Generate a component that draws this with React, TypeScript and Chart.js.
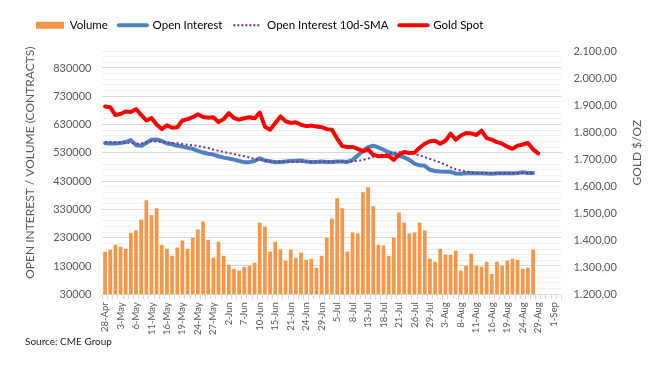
import React, { useEffect, useRef } from 'react';
import { Chart, registerables } from 'chart.js';

Chart.register(...registerables);

// Business days (CME) from 28-Apr to 2-Sep
const dateLabels = [
  '28-Apr', '29-Apr',
  '2-May', '3-May', '4-May', '5-May', '6-May',
  '9-May', '10-May', '11-May', '12-May', '13-May',
  '16-May', '17-May', '18-May', '19-May', '20-May',
  '23-May', '24-May', '25-May', '26-May', '27-May',
  '31-May', '1-Jun', '2-Jun', '3-Jun',
  '6-Jun', '7-Jun', '8-Jun', '9-Jun', '10-Jun',
  '13-Jun', '14-Jun', '15-Jun', '16-Jun', '17-Jun',
  '21-Jun', '22-Jun', '23-Jun', '24-Jun',
  '27-Jun', '28-Jun', '29-Jun', '30-Jun', '1-Jul',
  '5-Jul', '6-Jul', '7-Jul', '8-Jul',
  '11-Jul', '12-Jul', '13-Jul', '14-Jul', '15-Jul',
  '18-Jul', '19-Jul', '20-Jul', '21-Jul', '22-Jul',
  '25-Jul', '26-Jul', '27-Jul', '28-Jul', '29-Jul',
  '1-Aug', '2-Aug', '3-Aug', '4-Aug', '5-Aug',
  '8-Aug', '9-Aug', '10-Aug', '11-Aug', '12-Aug',
  '15-Aug', '16-Aug', '17-Aug', '18-Aug', '19-Aug',
  '22-Aug', '23-Aug', '24-Aug', '25-Aug', '26-Aug',
  '29-Aug', '30-Aug', '31-Aug', '1-Sep', '2-Sep',
];

const volume = [
  180000, 187000, 205000, 198000, 191000, 247000, 255000, 294000, 362000, 309000,
  334000, 205000, 191000, 166000, 195000, 220000, 191000, 230000, 259000, 287000,
  223000, 159000, 216000, 166000, 134000, 120000, 113000, 127000, 131000, 141000,
  284000, 270000, 181000, 216000, 188000, 149000, 188000, 159000, 177000, 152000,
  156000, 124000, 166000, 230000, 298000, 369000, 334000, 181000, 248000, 245000,
  391000, 408000, 341000, 205000, 202000, 166000, 230000, 319000, 284000, 245000,
  248000, 284000, 255000, 156000, 145000, 191000, 170000, 170000, 184000, 113000,
  131000, 173000, 131000, 127000, 145000, 102000, 145000, 131000, 149000, 156000,
  152000, 120000, 124000, 188000,
];

const openInterest = [
  564000, 563000, 563000, 565000, 568000, 575000, 557000, 555000, 565000, 576000,
  577000, 572000, 563000, 560000, 555000, 552000, 548000, 544000, 537000, 531000,
  527000, 524000, 518000, 513000, 510000, 506000, 501000, 497000, 497000, 501000,
  511000, 503000, 500000, 497000, 498000, 499000, 501000, 502000, 503000, 499000,
  498000, 498000, 499000, 498000, 498000, 499000, 499000, 498000, 505000, 520000,
  538000, 550000, 555000, 549000, 541000, 532000, 526000, 520000, 514000, 505000,
  492000, 486000, 484000, 470000, 466000, 464000, 463000, 463000, 457000, 456000,
  458000, 459000, 458000, 458000, 457000, 456000, 458000, 458000, 458000, 458000,
  459000, 461000, 459000, 459000,
];

const openInterestSMA = [
  567000, 567000, 567000, 566500, 566000, 565000, 562500, 563000, 567000, 571000,
  570000, 568500, 566500, 565000, 564000, 561000, 559000, 556500, 554000, 550500,
  547000, 541500, 537000, 533000, 529500, 525500, 521500, 518000, 514000, 508500,
  505000, 502500, 500000, 498500, 498500, 498500, 498500, 498500, 498500, 498500,
  498500, 498500, 498500, 498500, 498500, 498300, 498300, 498300, 499500, 501500,
  505000, 509500, 516000, 521000, 524500, 528000, 531000, 532000, 531500, 529000,
  526500, 521000, 515000, 508500, 502000, 496000, 488000, 479000, 472000, 467000,
  463500, 461000, 459000, 458500, 458500, 458000, 458000, 457500, 457500, 458000,
  458000, 458500, 458500, 459000,
];

const goldSpot = [
  1895, 1892, 1863, 1867, 1876, 1874, 1885, 1864, 1843, 1852,
  1828, 1811, 1825, 1816, 1818, 1843, 1848, 1855, 1866, 1856,
  1853, 1855, 1837, 1848, 1870, 1852, 1846, 1851, 1855, 1851,
  1872, 1820, 1809, 1833, 1858, 1840, 1834, 1836, 1827, 1822,
  1824, 1821, 1818, 1811, 1809, 1776, 1748, 1745, 1745, 1738,
  1729, 1736, 1716, 1711, 1712, 1712, 1697, 1717, 1726, 1723,
  1724, 1742, 1757, 1766, 1768, 1757, 1768, 1794, 1772, 1787,
  1797, 1795, 1789, 1805, 1778, 1772, 1763, 1757, 1746, 1738,
  1750, 1754, 1760, 1736, 1721,
];

const seriesNames = ['Volume', 'Open Interest', 'Open Interest 10d-SMA', 'Gold Spot'];
const leftTitle = 'OPEN INTEREST / VOLUME (CONTRACTS)';
const rightTitle = 'GOLD $/OZ';
const sourceText = 'Source: CME Group';

const leftMin = 30000;
const leftMax = 890000;
const leftMinorStep = 20000;
const leftMajorStep = 100000;
const rightMin = 1200;
const rightMax = 2100;
const rightStep = 100;

const COLORS = {
  volume: '#F79646',
  oi: '#4F81BD',
  sma: '#7030A0',
  gold: '#FF0000',
  text: '#595959',
  gridMajor: '#D9D9D9',
  gridMinor: '#F0F0F0',
};

const FONT = 'Lato, "Open Sans", "DejaVu Sans", sans-serif';
const TITLE_SIZE = 12;
const TITLE_LH = TITLE_SIZE * 1.2;
// space reserved for the rotated axis titles (outer gap, inner gap) and their vertical shift
const LEFT_TITLE_OUT = -2.2;
const LEFT_TITLE_IN = 5;
const LEFT_TITLE_SHIFT = -10;
const RIGHT_TITLE_OUT = 15.3;
const RIGHT_TITLE_IN = 1.5;
const RIGHT_TITLE_SHIFT = -20;
const LEGEND_EXTRA = 10;

function fmtGold(v: number): string {
  const s = Number(v).toFixed(2);
  const [i, d] = s.split('.');
  return i.replace(/\B(?=(\d{3})+(?!\d))/g, '.') + ',' + d;
}

function drawVerticalTitle(ctx: any, text: string, x: number, y: number) {
  ctx.save();
  ctx.translate(x, y);
  ctx.rotate(-Math.PI / 2);
  ctx.textAlign = 'center';
  ctx.textBaseline = 'middle';
  ctx.font = `${TITLE_SIZE}px ${FONT}`;
  ctx.fillStyle = COLORS.text;
  ctx.fillText(text, 0, 0);
  ctx.restore();
}

const axisTitlePlugin = {
  id: 'axisTitlePlugin',
  afterDraw(chart: any) {
    const ctx = chart.ctx;
    const l = chart.scales.y;
    const r = chart.scales.y1;
    if (l) drawVerticalTitle(ctx, leftTitle, l.left + LEFT_TITLE_OUT + TITLE_LH / 2, (l.top + l.bottom) / 2 + LEFT_TITLE_SHIFT);
    if (r) drawVerticalTitle(ctx, rightTitle, r.right - RIGHT_TITLE_OUT - TITLE_LH / 2, (r.top + r.bottom) / 2 + RIGHT_TITLE_SHIFT);
  },
};

const legendSpacerPlugin = {
  id: 'legendSpacer',
  beforeLayout(chart: any) {
    const lg = chart.legend;
    if (lg && !lg.__spaced) {
      const fit = lg.fit.bind(lg);
      lg.fit = function () {
        fit();
        lg.height += LEGEND_EXTRA;
      };
      lg.__spaced = true;
    }
  },
};

export default function App() {
  const canvasRef = useRef<HTMLCanvasElement | null>(null);

  useEffect(() => {
    if (!canvasRef.current) return;
    Chart.defaults.font.family = FONT;
    const chart = new Chart(canvasRef.current, {
      type: 'bar',
      data: {
        labels: dateLabels,
        datasets: [
          {
            type: 'bar',
            label: seriesNames[0],
            data: volume,
            backgroundColor: COLORS.volume,
            borderWidth: 0,
            barPercentage: 0.72,
            categoryPercentage: 1,
            yAxisID: 'y',
            order: 4,
          },
          {
            type: 'line',
            label: seriesNames[1],
            data: openInterest,
            borderColor: COLORS.oi,
            backgroundColor: COLORS.oi,
            borderWidth: 4,
            pointRadius: 0,
            tension: 0,
            borderJoinStyle: 'round',
            borderCapStyle: 'round',
            fill: false,
            yAxisID: 'y',
            order: 3,
          },
          {
            type: 'line',
            label: seriesNames[2],
            data: openInterestSMA,
            borderColor: COLORS.sma,
            backgroundColor: COLORS.sma,
            borderWidth: 2,
            borderDash: [2, 2.5],
            pointRadius: 0,
            tension: 0,
            fill: false,
            yAxisID: 'y',
            order: 2,
          },
          {
            type: 'line',
            label: seriesNames[3],
            data: goldSpot,
            borderColor: COLORS.gold,
            backgroundColor: COLORS.gold,
            borderWidth: 4,
            pointRadius: 0,
            tension: 0,
            borderJoinStyle: 'round',
            borderCapStyle: 'round',
            fill: false,
            yAxisID: 'y1',
            order: 1,
          },
        ],
      },
      options: {
        responsive: true,
        maintainAspectRatio: false,
        animation: false,
        events: [],
        layout: { padding: { left: 17, right: 4, top: 0.5, bottom: 0 } },
        plugins: {
          tooltip: { enabled: false },
          legend: {
            display: true,
            position: 'top',
            align: 'start',
            labels: {
              usePointStyle: true,
              pointStyleWidth: 28,
              boxHeight: 7,
              padding: 11,
              color: COLORS.text,
              font: { size: 11.5, family: FONT },
              generateLabels: () => [
                { text: seriesNames[0], fillStyle: COLORS.volume, strokeStyle: COLORS.volume, lineWidth: 0, pointStyle: 'rect', datasetIndex: 0, hidden: false },
                { text: seriesNames[1], fillStyle: 'rgba(0,0,0,0)', strokeStyle: COLORS.oi, lineWidth: 4, lineCap: 'round', pointStyle: 'line', datasetIndex: 1, hidden: false },
                { text: seriesNames[2], fillStyle: 'rgba(0,0,0,0)', strokeStyle: COLORS.sma, lineWidth: 2, lineDash: [2, 2], pointStyle: 'line', datasetIndex: 2, hidden: false },
                { text: seriesNames[3], fillStyle: 'rgba(0,0,0,0)', strokeStyle: COLORS.gold, lineWidth: 4, lineCap: 'round', pointStyle: 'line', datasetIndex: 3, hidden: false },
              ],
            },
          },
          title: {
            display: true,
            position: 'bottom',
            align: 'start',
            text: sourceText,
            color: '#262626',
            font: { size: 10, weight: 'normal', family: FONT },
            padding: { top: -2.3, bottom: 17.3 },
          },
        },
        scales: {
          x: {
            type: 'category',
            offset: true,
            grid: {
              display: true,
              drawOnChartArea: false,
              drawTicks: true,
              tickLength: 5,
              color: COLORS.gridMajor,
              offset: true,
            },
            border: { display: true, color: COLORS.gridMajor },
            ticks: {
              autoSkip: false,
              maxRotation: 90,
              minRotation: 90,
              padding: 3,
              color: COLORS.text,
              font: { size: 9.5 },
              callback: (_v: any, i: number) => (i % 3 === 0 ? dateLabels[i] : ''),
            },
          },
          y: {
            type: 'linear',
            position: 'left',
            min: leftMin,
            max: leftMax,
            grid: {
              drawTicks: false,
              color: (c: any) =>
                c.tick && (c.tick.value - leftMin) % leftMajorStep === 0 ? COLORS.gridMajor : COLORS.gridMinor,
            },
            border: { display: false },
            ticks: {
              stepSize: leftMinorStep,
              autoSkip: false,
              padding: 11,
              color: COLORS.text,
              font: { size: 11 },
              callback: (v: any) => ((Number(v) - leftMin) % leftMajorStep === 0 ? String(v) : ''),
            },
            afterFit: (s: any) => {
              s.width += TITLE_LH + LEFT_TITLE_OUT + LEFT_TITLE_IN;
            },
          },
          y1: {
            type: 'linear',
            position: 'right',
            min: rightMin,
            max: rightMax,
            grid: { display: false, drawTicks: false, drawOnChartArea: false },
            border: { display: false },
            ticks: {
              stepSize: rightStep,
              autoSkip: false,
              padding: 12,
              color: COLORS.text,
              font: { size: 11 },
              callback: (v: any) => fmtGold(Number(v)),
            },
            afterFit: (s: any) => {
              s.width += TITLE_LH + RIGHT_TITLE_OUT + RIGHT_TITLE_IN;
            },
          },
        },
      } as any,
      plugins: [legendSpacerPlugin, axisTitlePlugin],
    });
    return () => chart.destroy();
  }, []);

  return (
    <div style={{ position: 'relative', width: '656px', height: '357px' }}>
      <canvas ref={canvasRef} />
    </div>
  );
}
